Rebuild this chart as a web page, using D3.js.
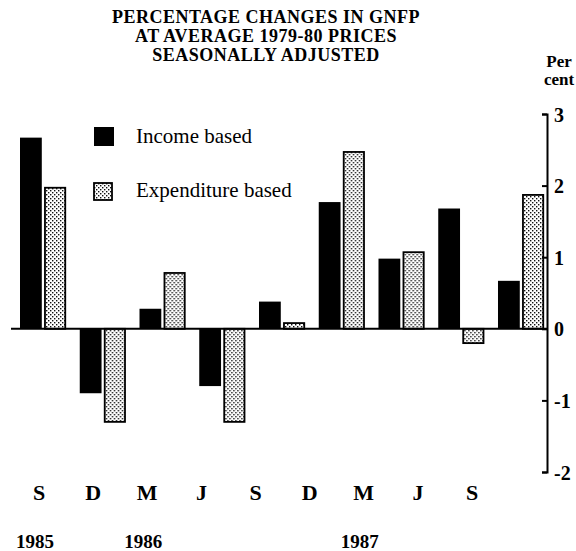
<!DOCTYPE html>
<html>
<head>
<meta charset="utf-8">
<script src="https://cdn.jsdelivr.net/npm/d3@7"></script>
<style>
  body { margin: 0; background: #fff; }
  svg { display: block; font-family: "Liberation Serif", "Times New Roman", serif; }
</style>
</head>
<body>
<svg width="576" height="551"></svg>
<script>
// quarters, with the year printed under some of them
var quarters = ["S", "D", "M", "J", "S", "D", "M", "J", "S"];
var years = ["1985", "", "1986", "", "", "", "1987", "", ""];
var seriesNames = ["Income based", "Expenditure based"];
var incomeBased = [2.67, -0.9, 0.28, -0.8, 0.38, 1.77, 0.98, 1.68, 0.67];
var expenditureBased = [1.97, -1.3, 0.78, -1.3, 0.08, 2.47, 1.07, -0.2, 1.87];
var yTicks = [3, 2, 1, 0, -1, -2];
var titleLines = ["PERCENTAGE CHANGES IN GNFP", "AT AVERAGE 1979-80 PRICES", "SEASONALLY ADJUSTED"];

var svg = d3.select("svg");

var defs = svg.append("defs");
var pat = defs.append("pattern")
    .attr("id", "stipple")
    .attr("patternUnits", "userSpaceOnUse")
    .attr("width", 4)
    .attr("height", 4);
pat.append("rect").attr("width", 4).attr("height", 4).attr("fill", "#fff");
pat.append("rect").attr("x", 0).attr("y", 0).attr("width", 1.4).attr("height", 1.4).attr("fill", "#111");
pat.append("rect").attr("x", 2).attr("y", 2).attr("width", 1.4).attr("height", 1.4).attr("fill", "#111");

var y = d3.scaleLinear().domain([-2, 3]).range([472, 114]);

var x = d3.scaleBand()
    .domain(d3.range(quarters.length))
    .range([20, 544])
    .paddingInner(0.23)
    .paddingOuter(0);

var xs = d3.scaleBand()
    .domain([0, 1])
    .range([0, x.bandwidth()])
    .paddingInner(0.1);

// labels sit on their own spacing, not under the bar groups
var xl = d3.scalePoint()
    .domain(d3.range(quarters.length))
    .range([39, 472]);

// title
svg.append("g").selectAll("text")
    .data(titleLines)
    .join("text")
    .attr("x", 266)
    .attr("y", function(d, i) { return 23 + i * 19; })
    .attr("text-anchor", "middle")
    .attr("font-size", 18)
    .attr("letter-spacing", 0.5)
    .attr("font-weight", "bold")
    .text(function(d) { return d; });

svg.append("text").attr("x", 559).attr("y", 67)
    .attr("text-anchor", "middle").attr("font-size", 17).attr("font-weight", "bold").text("Per");
svg.append("text").attr("x", 559).attr("y", 85)
    .attr("text-anchor", "middle").attr("font-size", 17).attr("font-weight", "bold").text("cent");

// bars
var rows = quarters.map(function(q, i) {
  return [incomeBased[i], expenditureBased[i]];
});

var groups = svg.append("g").selectAll("g")
    .data(rows)
    .join("g")
    .attr("transform", function(d, i) { return "translate(" + x(i) + ",0)"; });

groups.selectAll("rect")
    .data(function(d) { return d; })
    .join("rect")
    .attr("x", function(d, j) { return xs(j) + (j ? 0.75 : 0); })
    .attr("y", function(d) { return y(Math.max(0, d)); })
    .attr("width", function(d, j) { return xs.bandwidth() - (j ? 1.5 : 0); })
    .attr("height", function(d) { return Math.abs(y(d) - y(0)); })
    .attr("fill", function(d, j) { return j ? "url(#stipple)" : "#000"; })
    .attr("stroke", function(d, j) { return j ? "#000" : "none"; })
    .attr("stroke-width", 1.8);

// zero line
svg.append("line")
    .attr("x1", 11).attr("x2", 547)
    .attr("y1", y(0)).attr("y2", y(0))
    .attr("stroke", "#000").attr("stroke-width", 2);

// right axis, ticks pointing inwards
var axis = svg.append("g")
    .attr("transform", "translate(547,0)")
    .call(d3.axisLeft(y).tickValues(yTicks).tickSize(5).tickSizeOuter(5).tickFormat(d3.format("d")));
axis.select(".domain").attr("stroke-width", 2);
axis.selectAll(".tick line").attr("stroke-width", 2);
axis.selectAll(".tick text")
    .attr("x", 7)
    .attr("dy", "0.35em")
    .attr("text-anchor", "start")
    .attr("font-family", "Liberation Serif")
    .attr("font-size", 20)
    .attr("font-weight", "bold")
    .text(function(d) { return d < 0 ? "-" + Math.abs(d) : d; });

// quarter labels
svg.append("g").selectAll("text")
    .data(quarters)
    .join("text")
    .attr("x", function(d, i) { return xl(i); })
    .attr("y", 500)
    .attr("text-anchor", "middle")
    .attr("font-size", 22)
    .attr("font-weight", "bold")
    .text(function(d) { return d; });

svg.append("g").selectAll("text")
    .data(years)
    .join("text")
    .attr("x", function(d, i) { return xl(i) - 4; })
    .attr("y", 548)
    .attr("text-anchor", "middle")
    .attr("font-size", 19)
    .attr("font-weight", "bold")
    .text(function(d) { return d; });

// legend
var legend = svg.append("g").selectAll("g")
    .data(seriesNames)
    .join("g")
    .attr("transform", function(d, i) { return "translate(94," + (127 + i * 56) + ")"; });
legend.append("rect")
    .attr("width", function(d, i) { return i ? 18 : 20; })
    .attr("height", function(d, i) { return i ? 17 : 19; })
    .attr("fill", function(d, i) { return i ? "url(#stipple)" : "#000"; })
    .attr("stroke", function(d, i) { return i ? "#000" : "none"; })
    .attr("stroke-width", 1.8);
legend.append("text")
    .attr("x", 42)
    .attr("y", function(d, i) { return i ? 14 : 16; })
    .attr("font-size", 21)
    .text(function(d) { return d; });
</script>
</body>
</html>
